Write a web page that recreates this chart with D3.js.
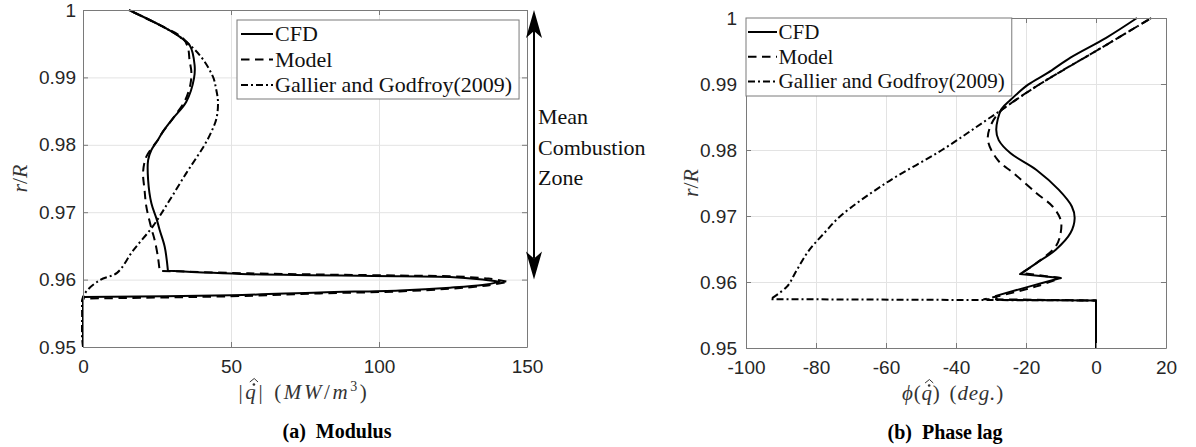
<!DOCTYPE html>
<html>
<head>
<meta charset="utf-8">
<script src="https://cdn.jsdelivr.net/npm/d3@7/dist/d3.min.js"></script>
<style>
html,body{margin:0;padding:0;background:#fff;}
svg{display:block;}
</style>
</head>
<body>
<svg id="fig" width="1196" height="447"></svg>
<script>
// ---------------- data ----------------
const rTicks = [0.95, 0.96, 0.97, 0.98, 0.99, 1];
const rTickLabels = ["0.95", "0.96", "0.97", "0.98", "0.99", "1"];
const modTicks = [0, 50, 100, 150];
const modTickLabels = ["0", "50", "100", "150"];
const phaseTicks = [-100, -80, -60, -40, -20, 0, 20];
const phaseTickLabels = ["-100", "-80", "-60", "-40", "-20", "0", "20"];
const seriesNames = ["CFD", "Model", "Gallier and Godfroy(2009)"];
const zoneR = [0.96, 1.0];
const zoneText = ["Mean", "Combustion", "Zone"];

// (a) modulus |q| (MW/m^3) against r/R
const modCfdQ = [0, 0, 50, 80, 107, 124, 135, 140.8, 135, 124, 107, 56, 28.7, 27.6, 25.9, 24.8, 23.1, 22.0, 22.0, 23.1, 25.3, 27.0, 30.4, 34.9, 37.5, 37.7, 36.0, 32.6, 27.0, 15.5];
const modCfdR = [0.95, 0.9574, 0.95767, 0.9581, 0.9584, 0.9588, 0.9592, 0.95966, 0.96, 0.9604, 0.9605, 0.9608, 0.9613, 0.96488, 0.96736, 0.96909, 0.97132, 0.97478, 0.97774, 0.97923, 0.98071, 0.98195, 0.98393, 0.9864, 0.98986, 0.99184, 0.99481, 0.99604, 0.99752, 1.0];
const modModelQ = [0, 0, 50, 80, 107, 124, 136, 143.6, 137, 124, 107, 56, 25.9, 25.3, 24.2, 23.1, 21.4, 20.8, 20.3, 21.4, 23.6, 25.3, 27.0, 30.4, 34.5, 36.3, 36.6, 36.0, 35.5, 33.8, 27.0, 15.5];
const modModelR = [0.95, 0.9572, 0.95752, 0.95795, 0.95825, 0.95865, 0.9591, 0.95968, 0.96015, 0.9605, 0.9606, 0.96093, 0.9613, 0.9634, 0.96588, 0.96761, 0.97082, 0.97329, 0.976, 0.97823, 0.97972, 0.98071, 0.98195, 0.98393, 0.9866, 0.989, 0.99085, 0.9925, 0.99432, 0.9958, 0.99752, 1.0];
const modGallierQ = [0, 0, 5.6, 11.5, 16.9, 23.6, 29.3, 34.9, 38.5, 41.1, 43.4, 45.1, 45.6, 45.0, 43.9, 39.4, 32.6, 27.0, 15.5];
const modGallierR = [0.95, 0.9574, 0.9599, 0.9610, 0.9643, 0.9679, 0.9718, 0.9758, 0.9782, 0.98, 0.98195, 0.98393, 0.9864, 0.9882, 0.9901, 0.99332, 0.99604, 0.99752, 1.0];

// (b) phase lag phi (deg.) against r/R
const phCfdP = [0, 0, -28.3, -28.6, -18.9, -10.1, -21.7, -17.0, -11.5, -7.3, -6.1, -6.9, -10.6, -17.0, -24.4, -27.8, -28.5, -27.0, -24.4, -19.4, -13.8, -7.3, 2.9, 11.7];
const phCfdR = [0.95, 0.9572, 0.9573, 0.9579, 0.95934, 0.9606, 0.9612, 0.96287, 0.96489, 0.96741, 0.96967, 0.97144, 0.97395, 0.97698, 0.9795, 0.9815, 0.9831, 0.9862, 0.98761, 0.9899, 0.99168, 0.994, 0.997, 1.0];
const phModelP = [0, 0, -32, -28.1, -17.0, -10.1, -21.2, -17.0, -11.5, -10.1, -10.1, -12.4, -17.0, -23.5, -28.1, -30.9, -30.0, -27.5, -24.0, -16.0, 0, 15.8];
const phModelR = [0.95, 0.9572, 0.9574, 0.95783, 0.95934, 0.9606, 0.96136, 0.96287, 0.96539, 0.96741, 0.96942, 0.97144, 0.97345, 0.97647, 0.97849, 0.98151, 0.98381, 0.9858, 0.9872, 0.99, 0.995, 1.0];
const phGallierP = [0, 0, -93.0, -88.3, -85.5, -82.0, -77.5, -73.0, -60.0, -44.0, -30.0, -16.0, 0, 15.8];
const phGallierR = [0.95, 0.9572, 0.9574, 0.9593, 0.9618, 0.9648, 0.9675, 0.9700, 0.9750, 0.9800, 0.9850, 0.9900, 0.9950, 1.0];

// ---------------- drawing ----------------
const svg = d3.select("#fig");
const SERIF = "'Liberation Serif','DejaVu Serif','Times New Roman',serif";
const SANS = "'Liberation Sans',Arial,Helvetica,sans-serif";
const AXC = "#7a7a7a";
const TXT = "#262626";
const dashes = [null, "8.5,5.5", "7,3,2,3"];

// smooth curve through the points, keeping sharp corners sharp
function cornerAwarePath(pts, x, y) {
  const px = pts.map(p => [x(p[0]), y(p[1])]);
  const pieces = [];
  let cur = [px[0]];
  for (let i = 1; i < px.length; i++) {
    cur.push(px[i]);
    if (i < px.length - 1) {
      const a = [px[i][0] - px[i - 1][0], px[i][1] - px[i - 1][1]];
      const b = [px[i + 1][0] - px[i][0], px[i + 1][1] - px[i][1]];
      const ang = Math.abs(Math.atan2(a[0] * b[1] - a[1] * b[0], a[0] * b[0] + a[1] * b[1]));
      if (ang > 55 * Math.PI / 180) { pieces.push(cur); cur = [px[i]]; }
    }
  }
  pieces.push(cur);
  const gen = d3.line().curve(d3.curveCatmullRom.alpha(0.5));
  return pieces.map((p, k) => { const s = gen(p); return k === 0 ? s : "L" + s.slice(1); }).join("");
}

function drawPanel(cfg) {
  const W = cfg.right - cfg.left, H = cfg.bottom - cfg.top;
  const x = d3.scaleLinear().domain(cfg.xDomain).range([cfg.left, cfg.right]);
  const y = d3.scaleLinear().domain([0.95, 1]).range([cfg.bottom, cfg.top]);
  const g = svg.append("g");

  // grid
  g.append("g").attr("transform", `translate(0,${cfg.bottom})`)
    .call(d3.axisBottom(x).tickValues(cfg.xTicks).tickSize(-H).tickFormat(""))
    .call(a => { a.select(".domain").remove(); a.selectAll("line").attr("stroke", "#e3e3e3"); });
  g.append("g").attr("transform", `translate(${cfg.left},0)`)
    .call(d3.axisLeft(y).tickValues(rTicks).tickSize(-W).tickFormat(""))
    .call(a => { a.select(".domain").remove(); a.selectAll("line").attr("stroke", "#e3e3e3"); });

  // series
  const clipId = "clip-" + cfg.id;
  svg.append("clipPath").attr("id", clipId).append("rect")
    .attr("x", cfg.left - 2).attr("y", cfg.top - 2).attr("width", W + 4).attr("height", H + 4);
  [2, 1, 0].forEach(i => {
    const s = cfg.series[i];
    const pts = s[0].map((v, k) => [v, s[1][k]]);
    g.append("path").attr("d", cornerAwarePath(pts, x, y)).attr("fill", "none").attr("stroke", "#000")
      .attr("stroke-width", 2).attr("stroke-dasharray", dashes[i])
      .attr("stroke-linejoin", "round").attr("clip-path", `url(#${clipId})`);
  });

  // axes
  const styleAx = a => {
    a.select(".domain").attr("stroke", AXC).attr("stroke-width", 1);
    a.selectAll(".tick line").attr("stroke", AXC);
    a.selectAll("text").attr("fill", TXT).attr("font-family", SANS).attr("font-size", 19);
  };
  g.append("g").attr("transform", `translate(0,${cfg.bottom})`)
    .call(d3.axisBottom(x).tickValues(cfg.xTicks).tickFormat((d, i) => cfg.xLabels[i]).tickSize(-5).tickSizeOuter(0).tickPadding(12.5))
    .call(styleAx);
  g.append("g").attr("transform", `translate(0,${cfg.top})`)
    .call(d3.axisTop(x).tickValues(cfg.xTicks).tickFormat("").tickSize(-5).tickSizeOuter(0))
    .call(styleAx);
  g.append("g").attr("transform", `translate(${cfg.left},0)`)
    .call(d3.axisLeft(y).tickValues(rTicks).tickFormat((d, i) => rTickLabels[i]).tickSize(-5).tickSizeOuter(0).tickPadding(cfg.yPad))
    .call(styleAx);
  g.append("g").attr("transform", `translate(${cfg.right},0)`)
    .call(d3.axisRight(y).tickValues(rTicks).tickFormat("").tickSize(-5).tickSizeOuter(0))
    .call(styleAx);

  // y label r/R
  const yl = g.append("text").attr("transform", `translate(${cfg.yLabelX},${(cfg.top + cfg.bottom) / 2}) rotate(-90)`)
    .attr("text-anchor", "middle").attr("font-family", SERIF).attr("font-size", 22).attr("fill", "#333");
  yl.append("tspan").attr("font-style", "italic").text("r");
  yl.append("tspan").text("/");
  yl.append("tspan").attr("font-style", "italic").text("R");

  // legend
  const L = cfg.leg;
  const lg = g.append("g");
  const box = lg.append("rect").attr("fill", "#fff").attr("stroke", AXC).attr("stroke-width", 1);
  let maxW = 0;
  seriesNames.forEach((n, i) => {
    const cy = L.top + L.first + i * L.step;
    lg.append("line").attr("x1", L.left + L.l0).attr("x2", L.left + L.l1).attr("y1", cy).attr("y2", cy)
      .attr("stroke", "#000").attr("stroke-width", 2).attr("stroke-dasharray", dashes[i]);
    const t = lg.append("text").attr("x", L.left + L.tx).attr("y", cy + 7)
      .attr("font-family", SERIF).attr("font-size", L.fs).attr("fill", "#111").text(n);
    maxW = Math.max(maxW, t.node().getComputedTextLength());
  });
  box.attr("x", L.left).attr("y", L.top).attr("width", L.tx + maxW + 7).attr("height", L.h);

  return { x, y };
}

function mathLabel(cx, by, parts, ls) {
  const t = svg.append("text").attr("x", cx).attr("y", by).attr("text-anchor", "middle")
    .attr("font-family", SERIF).attr("font-size", 21).attr("fill", "#333").attr("letter-spacing", ls);
  let full = "";
  let qIndex = -1;
  parts.forEach(p => {
    const ts = t.append("tspan").text(p.t);
    if (p.it) ts.attr("font-style", "italic");
    if (p.dx) ts.attr("dx", p.dx);
    if (p.sup) ts.attr("font-size", 14).attr("dy", -8);
    if (p.down) ts.attr("dy", 8);
    if (p.hat) qIndex = full.length;
    full += p.t;
  });
  if (qIndex >= 0) {
    const n = t.node();
    const s = n.getStartPositionOfChar(qIndex), e = n.getEndPositionOfChar(qIndex);
    const mx = (s.x + e.x) / 2 + 1.5;
    svg.append("circle").attr("cx", mx + 0.5).attr("cy", by - 14.5).attr("r", 1.3).attr("fill", "#333");
    svg.append("path").attr("d", `M${mx - 3.6},${by - 17} L${mx + 0.8},${by - 20.5} L${mx + 4.6},${by - 17}`)
      .attr("fill", "none").attr("stroke", "#333").attr("stroke-width", 1);
  }
}

// panel (a)
const pa = drawPanel({
  id: "a", left: 83, right: 527, top: 10, bottom: 347, xDomain: [0, 150],
  xTicks: modTicks, xLabels: modTickLabels, yPad: 7, yLabelX: 27,
  leg: { left: 237, top: 20, first: 14, step: 25.5, l0: 4, l1: 36, tx: 38, fs: 22, h: 79 },
  series: [[modCfdQ, modCfdR], [modModelQ, modModelR], [modGallierQ, modGallierR]]
});
// panel (b)
const pb = drawPanel({
  id: "b", left: 746, right: 1166, top: 18, bottom: 348, xDomain: [-100, 20],
  xTicks: phaseTicks, xLabels: phaseTickLabels, yPad: 9, yLabelX: 698,
  leg: { left: 746, top: 18, first: 14, step: 24.7, l0: 2, l1: 31, tx: 32.5, fs: 21, h: 78 },
  series: [[phCfdP, phCfdR], [phModelP, phModelR], [phGallierP, phGallierR]]
});

// x labels
mathLabel(304, 399, [
  { t: "|" }, { t: "q", it: true, hat: true }, { t: "|" },
  { t: "(", dx: 9 }, { t: "MW", it: true }, { t: "/" }, { t: "m", it: true },
  { t: "3", sup: true }, { t: ")", down: true }
], 2.6);
mathLabel(953, 400, [
  { t: "\u03D5", it: true }, { t: "(" }, { t: "q", it: true, hat: true }, { t: ")" },
  { t: "(", dx: 9 }, { t: "deg.", it: true }, { t: ")" }
], 0.8);

// captions
svg.append("text").attr("x", 337).attr("y", 438).attr("text-anchor", "middle")
  .attr("font-family", SERIF).attr("font-weight", "bold").attr("font-size", 20).attr("fill", "#000")
  .text("(a)\u2002Modulus");
svg.append("text").attr("x", 945).attr("y", 439).attr("text-anchor", "middle")
  .attr("font-family", SERIF).attr("font-weight", "bold").attr("font-size", 20).attr("fill", "#000")
  .text("(b)\u2002Phase lag");

// mean combustion zone double arrow (spans zoneR on panel (a))
const ax = pa.x(150) + 7;
const yTop = pa.y(zoneR[1]), yBot = pa.y(zoneR[0]);
const HL = 28, HW = 8, HN = 21;
svg.append("line").attr("x1", ax).attr("x2", ax).attr("y1", yTop + HN).attr("y2", yBot - HN)
  .attr("stroke", "#000").attr("stroke-width", 2);
svg.append("path").attr("fill", "#000")
  .attr("d", `M${ax},${yTop} L${ax - HW},${yTop + HL} L${ax},${yTop + HN} L${ax + HW},${yTop + HL} Z`);
svg.append("path").attr("fill", "#000")
  .attr("d", `M${ax},${yBot} L${ax - HW},${yBot - HL} L${ax},${yBot - HN} L${ax + HW},${yBot - HL} Z`);
zoneText.forEach((t, i) => {
  svg.append("text").attr("x", ax + 4).attr("y", 124 + i * 30.5)
    .attr("font-family", SERIF).attr("font-size", 22).attr("fill", "#111").text(t);
});
</script>
</body>
</html>
